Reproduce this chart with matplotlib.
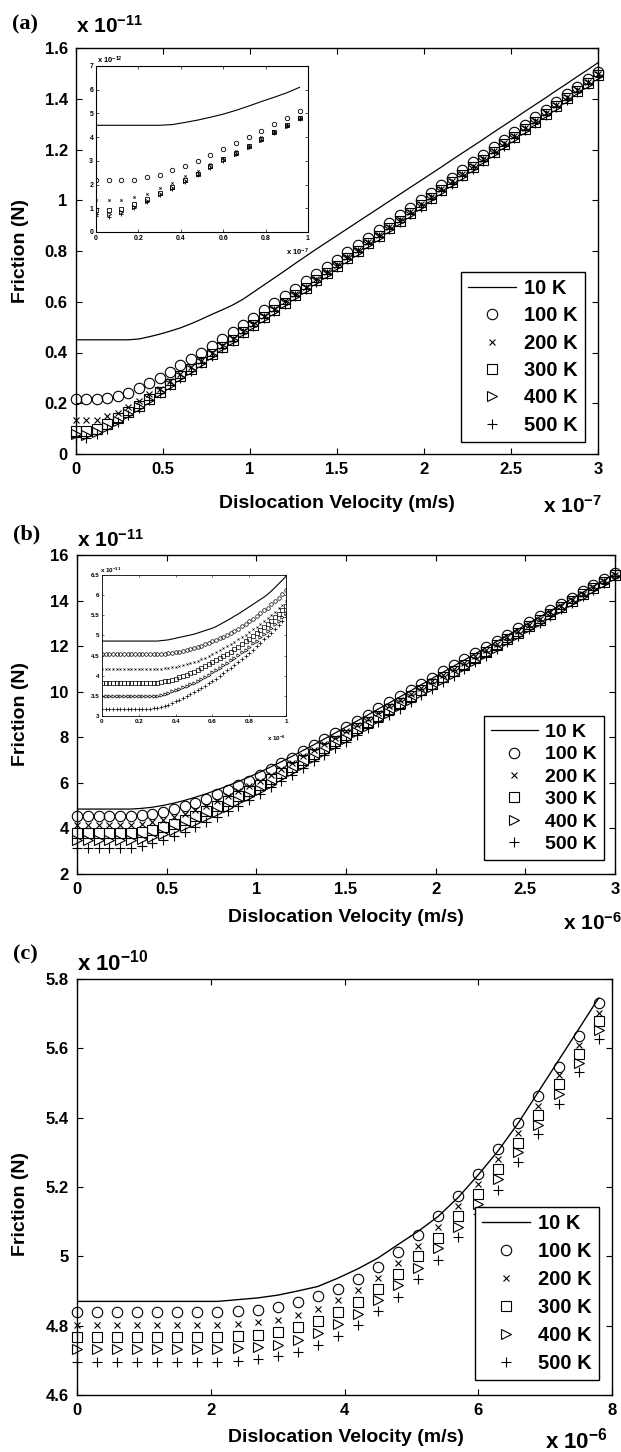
import numpy as np
import matplotlib
matplotlib.use('Agg')
import matplotlib.pyplot as plt

plt.rcParams['font.family'] = ['Liberation Sans', 'DejaVu Sans']
plt.rcParams['font.weight'] = 'bold'
plt.rcParams['mathtext.fontset'] = 'custom'
plt.rcParams['mathtext.bf'] = 'Liberation Sans:bold'
plt.rcParams['mathtext.rm'] = 'Liberation Sans:bold'
plt.rcParams['mathtext.default'] = 'bf'

labels = ['10 K', '100 K', '200 K', '300 K', '400 K', '500 K']

# ---- panel (a): velocity in 1e-7 m/s, friction in 1e-11 N
x_a = np.linspace(0, 3, 51)
a_10 = [0.450, 0.450, 0.450, 0.450, 0.450, 0.450, 0.453, 0.462, 0.472, 0.484, 0.497, 0.513, 0.531, 0.550, 0.568, 0.587, 0.610,
        0.638, 0.666, 0.694, 0.722, 0.751, 0.779, 0.807, 0.834, 0.861, 0.888, 0.915, 0.942, 0.969, 0.996, 1.023, 1.050,
        1.077, 1.104, 1.131, 1.159, 1.186, 1.213, 1.240, 1.268, 1.295, 1.322, 1.350, 1.377, 1.404, 1.432, 1.459, 1.487,
        1.514, 1.542]
a_100 = [0.218, 0.218, 0.218, 0.221, 0.230, 0.241, 0.260, 0.279, 0.301, 0.324, 0.349, 0.375, 0.399, 0.427, 0.455, 0.482, 0.510,
         0.537, 0.566, 0.594, 0.623, 0.652, 0.681, 0.710, 0.738, 0.766, 0.795, 0.824, 0.853, 0.882, 0.912, 0.941, 0.971,
         1.000, 1.030, 1.060, 1.089, 1.119, 1.149, 1.178, 1.208, 1.237, 1.267, 1.297, 1.327, 1.357, 1.387, 1.417, 1.447,
         1.477, 1.507]
a_200 = [0.134, 0.134, 0.134, 0.148, 0.162, 0.187, 0.208, 0.235, 0.258, 0.286, 0.314, 0.341, 0.368, 0.399, 0.427, 0.455, 0.486,
         0.514, 0.543, 0.572, 0.601, 0.630, 0.659, 0.688, 0.717, 0.746, 0.776, 0.805, 0.835, 0.864, 0.894, 0.924, 0.954,
         0.984, 1.014, 1.044, 1.074, 1.104, 1.134, 1.164, 1.194, 1.224, 1.254, 1.284, 1.314, 1.344, 1.374, 1.405, 1.435,
         1.465, 1.496]
a_300 = [0.092, 0.092, 0.099, 0.117, 0.141, 0.165, 0.190, 0.218, 0.246, 0.277, 0.307, 0.334, 0.363, 0.393, 0.423, 0.451, 0.482,
         0.510, 0.539, 0.568, 0.597, 0.626, 0.655, 0.684, 0.713, 0.742, 0.772, 0.801, 0.831, 0.860, 0.890, 0.920, 0.950,
         0.980, 1.010, 1.040, 1.070, 1.100, 1.130, 1.160, 1.190, 1.220, 1.250, 1.280, 1.310, 1.340, 1.371, 1.401, 1.431,
         1.461, 1.492]
a_400 = [0.077, 0.075, 0.085, 0.106, 0.131, 0.159, 0.186, 0.214, 0.244, 0.273, 0.303, 0.331, 0.360, 0.390, 0.420, 0.449, 0.479,
         0.507, 0.536, 0.565, 0.594, 0.623, 0.652, 0.681, 0.710, 0.739, 0.769, 0.798, 0.828, 0.857, 0.887, 0.917, 0.947,
         0.977, 1.007, 1.037, 1.067, 1.097, 1.127, 1.157, 1.187, 1.217, 1.247, 1.277, 1.307, 1.338, 1.368, 1.398, 1.429,
         1.459, 1.490]
a_500 = [0.066, 0.063, 0.077, 0.100, 0.127, 0.155, 0.183, 0.211, 0.241, 0.270, 0.300, 0.328, 0.357, 0.387, 0.417, 0.447, 0.477,
         0.505, 0.534, 0.563, 0.592, 0.621, 0.650, 0.679, 0.708, 0.737, 0.767, 0.796, 0.826, 0.855, 0.885, 0.915, 0.945,
         0.975, 1.005, 1.035, 1.065, 1.095, 1.125, 1.155, 1.185, 1.215, 1.245, 1.275, 1.305, 1.336, 1.366, 1.396, 1.427,
         1.457, 1.488]
n_zoom_a = 17  # inset (a) shows the first points, in 1e-12 N

# ---- panel (b): velocity in 1e-6 m/s, friction in 1e-11 N
x_b = np.linspace(0, 3, 51)
b_10 = [4.85, 4.85, 4.85, 4.85, 4.85, 4.85, 4.88, 4.93, 5.01, 5.11, 5.23, 5.37, 5.52, 5.69, 5.87, 6.06, 6.26,
        6.47, 6.70, 6.93, 7.17, 7.42, 7.67, 7.93, 8.19, 8.45, 8.71, 8.97, 9.24, 9.50, 9.77, 10.04, 10.31,
        10.58, 10.85, 11.12, 11.39, 11.66, 11.93, 12.20, 12.47, 12.74, 13.01, 13.28, 13.55, 13.82, 14.09, 14.36, 14.63,
        14.90, 15.17]
b_100 = [4.53, 4.53, 4.53, 4.53, 4.53, 4.53, 4.57, 4.64, 4.72, 4.84, 4.98, 5.13, 5.30, 5.49, 5.69, 5.89, 6.10,
         6.34, 6.59, 6.85, 7.11, 7.38, 7.65, 7.92, 8.19, 8.46, 8.73, 9.00, 9.27, 9.54, 9.81, 10.08, 10.35,
         10.62, 10.89, 11.16, 11.43, 11.70, 11.97, 12.24, 12.51, 12.78, 13.05, 13.32, 13.59, 13.86, 14.13, 14.40, 14.67,
         14.94, 15.21]
b_200 = [4.17, 4.17, 4.17, 4.17, 4.17, 4.17, 4.20, 4.27, 4.37, 4.50, 4.65, 4.82, 5.00, 5.20, 5.41, 5.63, 5.86,
         6.10, 6.36, 6.62, 6.89, 7.16, 7.43, 7.71, 7.98, 8.26, 8.53, 8.81, 9.08, 9.36, 9.63, 9.91, 10.18,
         10.46, 10.73, 11.01, 11.28, 11.56, 11.83, 12.11, 12.38, 12.66, 12.93, 13.21, 13.48, 13.76, 14.03, 14.31, 14.58,
         14.86, 15.13]
b_300 = [3.81, 3.81, 3.81, 3.81, 3.81, 3.81, 3.86, 3.95, 4.07, 4.21, 4.38, 4.56, 4.76, 4.97, 5.19, 5.42, 5.66,
         5.91, 6.17, 6.44, 6.71, 6.99, 7.27, 7.55, 7.83, 8.11, 8.39, 8.67, 8.95, 9.23, 9.51, 9.79, 10.07,
         10.35, 10.63, 10.91, 11.19, 11.47, 11.75, 12.03, 12.31, 12.59, 12.87, 13.15, 13.43, 13.71, 13.99, 14.27, 14.55,
         14.83, 15.11]
b_400 = [3.48, 3.48, 3.48, 3.48, 3.48, 3.48, 3.54, 3.64, 3.77, 3.92, 4.10, 4.29, 4.50, 4.72, 4.95, 5.19, 5.44,
         5.70, 5.97, 6.24, 6.52, 6.80, 7.08, 7.37, 7.65, 7.94, 8.22, 8.51, 8.79, 9.08, 9.36, 9.65, 9.93,
         10.22, 10.50, 10.79, 11.07, 11.36, 11.64, 11.93, 12.21, 12.50, 12.78, 13.07, 13.35, 13.64, 13.92, 14.21, 14.49,
         14.78, 15.06]
b_500 = [3.16, 3.16, 3.16, 3.16, 3.16, 3.16, 3.24, 3.36, 3.50, 3.67, 3.86, 4.06, 4.28, 4.51, 4.75, 5.00, 5.26,
         5.53, 5.80, 6.08, 6.36, 6.65, 6.94, 7.23, 7.52, 7.81, 8.10, 8.39, 8.68, 8.97, 9.26, 9.55, 9.84,
         10.13, 10.42, 10.71, 11.00, 11.29, 11.58, 11.87, 12.16, 12.45, 12.74, 13.03, 13.32, 13.61, 13.90, 14.19, 14.48,
         14.77, 15.06]

# inset (b): finer run, velocity 0..1
x_bi = np.linspace(0, 1, 51)
bi_10 = [4.86, 4.86, 4.86, 4.86, 4.86, 4.86, 4.86, 4.86, 4.86, 4.86, 4.86, 4.86, 4.86, 4.86, 4.86, 4.86,
         4.87, 4.88, 4.89, 4.91, 4.93, 4.95, 4.97, 4.99, 5.01, 5.03, 5.06, 5.09, 5.12, 5.15, 5.18, 5.22, 5.27,
         5.32, 5.37, 5.42, 5.48, 5.53, 5.59, 5.65, 5.71, 5.77, 5.83, 5.89, 5.95, 6.02, 6.10, 6.19, 6.28, 6.37, 6.47]
bi_100 = [4.53, 4.53, 4.53, 4.53, 4.53, 4.53, 4.53, 4.53, 4.53, 4.53, 4.53, 4.53, 4.53, 4.53, 4.53, 4.53,
          4.54, 4.55, 4.56, 4.57, 4.58, 4.60, 4.62, 4.64, 4.66, 4.69, 4.72, 4.75, 4.78, 4.81, 4.85, 4.89, 4.93,
          4.97, 5.02, 5.07, 5.12, 5.17, 5.23, 5.29, 5.35, 5.41, 5.48, 5.55, 5.62, 5.69, 5.77, 5.85, 5.94, 6.03, 6.12]
bi_200 = [4.16, 4.16, 4.16, 4.16, 4.16, 4.16, 4.16, 4.16, 4.16, 4.16, 4.16, 4.16, 4.16, 4.16, 4.16, 4.16,
          4.17, 4.18, 4.19, 4.21, 4.22, 4.24, 4.26, 4.28, 4.31, 4.34, 4.37, 4.41, 4.45, 4.49, 4.53, 4.58, 4.63,
          4.68, 4.73, 4.78, 4.84, 4.90, 4.96, 5.02, 5.08, 5.15, 5.22, 5.29, 5.36, 5.43, 5.51, 5.59, 5.67, 5.76, 5.85]
bi_300 = [3.82, 3.82, 3.82, 3.82, 3.82, 3.82, 3.82, 3.82, 3.82, 3.82, 3.82, 3.82, 3.82, 3.82, 3.82, 3.82,
          3.84, 3.86, 3.88, 3.90, 3.93, 3.96, 3.99, 4.02, 4.06, 4.10, 4.14, 4.18, 4.23, 4.28, 4.33, 4.38, 4.43,
          4.48, 4.54, 4.60, 4.66, 4.72, 4.78, 4.85, 4.92, 4.99, 5.06, 5.13, 5.21, 5.29, 5.37, 5.45, 5.54, 5.63, 5.72]
bi_400 = [3.50, 3.50, 3.50, 3.50, 3.50, 3.50, 3.50, 3.50, 3.50, 3.50, 3.50, 3.50, 3.50, 3.50, 3.50, 3.50,
          3.52, 3.55, 3.58, 3.61, 3.64, 3.67, 3.71, 3.75, 3.79, 3.83, 3.88, 3.93, 3.98, 4.03, 4.08, 4.14, 4.20,
          4.26, 4.32, 4.38, 4.45, 4.51, 4.58, 4.65, 4.72, 4.80, 4.87, 4.95, 5.03, 5.11, 5.19, 5.28, 5.37, 5.46, 5.55]
bi_500 = [3.18, 3.18, 3.18, 3.18, 3.18, 3.18, 3.18, 3.18, 3.18, 3.18, 3.18, 3.18, 3.18, 3.18, 3.19, 3.20,
          3.22, 3.25, 3.28, 3.32, 3.36, 3.40, 3.44, 3.49, 3.54, 3.59, 3.64, 3.70, 3.75, 3.81, 3.87, 3.93, 4.00,
          4.06, 4.13, 4.20, 4.27, 4.34, 4.42, 4.49, 4.57, 4.65, 4.73, 4.81, 4.90, 4.98, 5.07, 5.16, 5.25, 5.35, 5.45]

# ---- panel (c): velocity in 1e-6 m/s, friction in 1e-10 N
x_c = np.linspace(0, 7.8, 27)
c_10 = [4.870, 4.870, 4.870, 4.870, 4.870, 4.870, 4.870, 4.870, 4.875, 4.880, 4.888, 4.900, 4.913, 4.937,
        4.964, 4.995, 5.034, 5.072, 5.115, 5.170, 5.235, 5.305, 5.385, 5.475, 5.565, 5.655, 5.745]
c_100 = [4.839, 4.839, 4.839, 4.839, 4.839, 4.839, 4.839, 4.839, 4.843, 4.846, 4.853, 4.867, 4.885, 4.906,
         4.935, 4.970, 5.013, 5.061, 5.116, 5.173, 5.238, 5.309, 5.384, 5.462, 5.546, 5.636, 5.730]
c_200 = [4.803, 4.803, 4.803, 4.803, 4.803, 4.803, 4.803, 4.803, 4.806, 4.811, 4.816, 4.832, 4.848, 4.874,
         4.902, 4.938, 4.981, 5.031, 5.085, 5.145, 5.209, 5.281, 5.356, 5.435, 5.522, 5.610, 5.702]
c_300 = [4.766, 4.766, 4.766, 4.766, 4.766, 4.766, 4.766, 4.766, 4.770, 4.774, 4.782, 4.795, 4.814, 4.838,
         4.869, 4.907, 4.949, 5.000, 5.053, 5.117, 5.180, 5.253, 5.327, 5.409, 5.496, 5.583, 5.678]
c_400 = [4.733, 4.733, 4.733, 4.733, 4.733, 4.733, 4.733, 4.733, 4.736, 4.739, 4.745, 4.760, 4.779, 4.805,
         4.835, 4.873, 4.916, 4.966, 5.024, 5.085, 5.152, 5.223, 5.300, 5.380, 5.467, 5.558, 5.652]
c_500 = [4.695, 4.695, 4.695, 4.695, 4.695, 4.695, 4.695, 4.695, 4.699, 4.704, 4.712, 4.724, 4.743, 4.769,
         4.801, 4.841, 4.883, 4.936, 4.990, 5.055, 5.122, 5.192, 5.272, 5.353, 5.440, 5.532, 5.626]

xticks_ab = [0, 0.5, 1, 1.5, 2, 2.5, 3]
xticklabels_ab = ['0', '0.5', '1', '1.5', '2', '2.5', '3']
yticks_a = [0, 0.2, 0.4, 0.6, 0.8, 1.0, 1.2, 1.4, 1.6]
yticklabels_a = ['0', '0.2', '0.4', '0.6', '0.8', '1', '1.2', '1.4', '1.6']
yticks_b = [2, 4, 6, 8, 10, 12, 14, 16]
xticks_c = [0, 2, 4, 6, 8]
yticks_c = [4.6, 4.8, 5.0, 5.2, 5.4, 5.6, 5.8]
yticklabels_c = ['4.6', '4.8', '5', '5.2', '5.4', '5.6', '5.8']

W, H = 621, 1452
fig = plt.figure(figsize=(W / 100, H / 100), dpi=100)


def box(left, top, right, bottom):
    # pixel box -> figure fraction rect
    return [left / W, 1 - bottom / H, (right - left) / W, (bottom - top) / H]


def pt(x, y):
    return x / W, 1 - y / H


marks = ['o', 'x', 's', '>', '+']
sizes = [7.5, 4.5, 6.5, 6.5, 7.5]


def draw(ax, x, line, series, scale=1.0, lw=0.9):
    ax.plot(x, line, '-', color='k', lw=lw, label=labels[0])
    for y, m, s, lab in zip(series, marks, sizes, labels[1:]):
        ax.plot(x, y, ls='none', marker=m, ms=s * scale, mfc='none', mec='k',
                mew=0.8 * max(scale, 0.6), label=lab, clip_on=False)


def style(ax, size=12, length=4, width=0.8, pad=6, spine=1.0):
    ax.tick_params(direction='in', top=True, right=True, length=length, width=width,
                   labelsize=size, pad=pad)
    for s in ax.spines.values():
        s.set_linewidth(spine)


def legend(ax, right, bottom, fs, spacing):
    leg = ax.legend(loc='lower right', bbox_to_anchor=pt(right, bottom), bbox_transform=fig.transFigure,
                    borderaxespad=0, fontsize=fs, frameon=True, fancybox=False, edgecolor='k',
                    framealpha=1, handlelength=2.4, handletextpad=0.4, labelspacing=spacing,
                    borderpad=0.35, numpoints=1)
    leg.get_frame().set_linewidth(1.0)


def offset(x, y, power, fs):
    fig.text(*pt(x, y), 'x 10$^{' + power + '}$', fontsize=fs, fontweight='bold', va='baseline')


# ---------- (a)
ax = fig.add_axes(box(76, 48, 598, 454))
draw(ax, x_a, a_10, [a_100, a_200, a_300, a_400, a_500])
ax.set_xlim(0, 3)
ax.set_ylim(0, 1.6)
ax.set_xticks(xticks_ab)
ax.set_xticklabels(xticklabels_ab)
ax.set_yticks(yticks_a)
ax.set_yticklabels(yticklabels_a)
style(ax)
legend(ax, 585, 442, 14.5, 0.42)

ins = fig.add_axes(box(96, 66, 308, 232))
k = n_zoom_a
ins.plot(x_a[:k], np.array(a_10[:k]) * 10, '-', color='k', lw=0.8)
for y, m, s in zip([a_100, a_200, a_300, a_400, a_500], marks, [3.2, 1.6, 3.0, 3.0, 3.2]):
    ins.plot(x_a[:k], np.array(y[:k]) * 10, ls='none', marker=m, ms=s, mfc='none', mec='k', mew=0.6)
ins.set_xlim(0, 1)
ins.set_ylim(0, 7)
ins.set_xticks([0, 0.2, 0.4, 0.6, 0.8, 1])
ins.set_xticklabels(['0', '0.2', '0.4', '0.6', '0.8', '1'])
ins.set_yticks(range(8))
style(ins, size=5, length=2, width=0.5, pad=2, spine=0.8)
offset(97, 64, '-12', 5.5)
offset(286, 256, '-7', 5.5)

fig.text(12 / W, 1 - 29 / H, '(a)', family='Liberation Serif', fontweight='bold', fontsize=16, va='baseline')
offset(76, 33, '-11', 15)
fig.text(*pt(337, 503), 'Dislocation Velocity (m/s)', fontsize=14, fontweight='bold', ha='center', va='center')
offset(543, 513, '-7', 15)
fig.text(*pt(21, 251), 'Friction (N)', fontsize=14, fontweight='bold', rotation=90, ha='center', va='center')

# ---------- (b)
ax = fig.add_axes(box(77, 555, 615, 874))
draw(ax, x_b, b_10, [b_100, b_200, b_300, b_400, b_500])
ax.set_xlim(0, 3)
ax.set_ylim(2, 16)
ax.set_xticks(xticks_ab)
ax.set_xticklabels(xticklabels_ab)
ax.set_yticks(yticks_b)
style(ax)
legend(ax, 604, 860, 14, 0.25)

ins = fig.add_axes(box(102, 575, 286, 716))
ins.plot(x_bi, bi_10, '-', color='k', lw=0.8)
for y, m, s in zip([bi_100, bi_200, bi_300, bi_400, bi_500], marks, [2.6, 1.4, 2.4, 2.4, 2.6]):
    ins.plot(x_bi, y, ls='none', marker=m, ms=s, mfc='none', mec='k', mew=0.5)
ins.set_xlim(0, 1)
ins.set_ylim(3, 6.5)
ins.set_xticks([0, 0.2, 0.4, 0.6, 0.8, 1])
ins.set_xticklabels(['0', '0.2', '0.4', '0.6', '0.8', '1'])
ins.set_yticks([3, 3.5, 4, 4.5, 5, 5.5, 6, 6.5])
ins.set_yticklabels(['3', '3.5', '4', '4.5', '5', '5.5', '6', '6.5'])
style(ins, size=4.5, length=1.5, width=0.4, pad=2, spine=0.6)
offset(100, 573, '-11', 4.5)
offset(267, 741, '-6', 4.5)

fig.text(13 / W, 1 - 539 / H, '(b)', family='Liberation Serif', fontweight='bold', fontsize=16, va='baseline')
offset(77, 547, '-11', 15)
fig.text(*pt(346, 917), 'Dislocation Velocity (m/s)', fontsize=14, fontweight='bold', ha='center', va='center')
offset(563, 930, '-6', 15)
fig.text(*pt(21, 714), 'Friction (N)', fontsize=14, fontweight='bold', rotation=90, ha='center', va='center')

# ---------- (c)
ax = fig.add_axes(box(77, 979, 612, 1395))
draw(ax, x_c, c_10, [c_100, c_200, c_300, c_400, c_500], lw=1.0)
ax.set_xlim(0, 8)
ax.set_ylim(4.6, 5.8)
ax.set_xticks(xticks_c)
ax.set_yticks(yticks_c)
ax.set_yticklabels(yticklabels_c)
style(ax)
legend(ax, 599, 1380, 14.5, 0.45)

fig.text(13 / W, 1 - 959 / H, '(c)', family='Liberation Serif', fontweight='bold', fontsize=16, va='baseline')
offset(77, 970, '-10', 16)
fig.text(*pt(346, 1438), 'Dislocation Velocity (m/s)', fontsize=14, fontweight='bold', ha='center', va='center')
offset(545, 1448, '-6', 16)
fig.text(*pt(21, 1204), 'Friction (N)', fontsize=14, fontweight='bold', rotation=90, ha='center', va='center')

fig.savefig('out.png', dpi=100)
